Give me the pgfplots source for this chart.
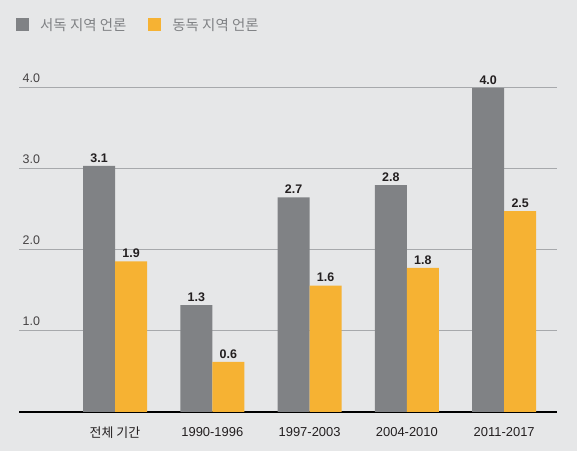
\documentclass[border=0pt]{standalone}
\usepackage{fontspec}
\setmainfont{Liberation Sans}
\newfontfamily\kr{Noto Sans CJK KR}
\usepackage{pgfplots}
\pgfplotsset{compat=1.18}
\definecolor{bg}{HTML}{E6E7E8}
\definecolor{bargray}{HTML}{808285}
\definecolor{barorange}{HTML}{F6B233}
\definecolor{gridgray}{HTML}{A7A9AC}
\definecolor{txt}{HTML}{231F20}
\definecolor{legtxt}{HTML}{808285}
\begin{document}
\begin{tikzpicture}[x=1bp,y=1bp]
\fill[bg] (0,0) rectangle (577,451);
\useasboundingbox (0,0) rectangle (577,451);
\begin{axis}[
  at={(19bp,39bp)}, anchor=south west,
  scale only axis, width=538bp, height=324bp,
  ybar=0pt, bar width=32bp,
  xmin=-0.987, xmax=4.543, ymin=0, ymax=4,
  clip=false,
  axis x line*=bottom, axis y line*=left,
  x axis line style={-, black, line width=1.2bp},
  y axis line style={draw=none},
  major tick length=0pt,
  xtick={0,1,2,3,4},
  xticklabels={{\kr 전체 기간},1990-1996,1997-2003,2004-2010,2011-2017},
  xticklabel style={font=\fontsize{13}{15}\selectfont, text=txt, anchor=north, inner sep=0pt, yshift=-15bp},
  ytick={1,2,3,4},
  yticklabels={1.0,2.0,3.0,4.0},
  yticklabel style={font=\fontsize{12.5}{14}\selectfont, text=txt!85, anchor=south west, inner sep=0pt, xshift=3.5bp, yshift=5bp},
  ymajorgrids, grid style={gridgray, line width=1bp},
  point meta=explicit symbolic,
  nodes near coords,
  nodes near coords style={font=\bfseries\fontsize{12.5}{14}\selectfont, text=txt},
  legend columns=2,
  legend style={draw=none, fill=none, at={(rel axis cs:0,1)}, anchor=west, xshift=-3bp, yshift=63bp, inner sep=0pt,
    nodes={inner sep=0pt},
    font=\kr\fontsize{14.5}{16}\selectfont, text=legtxt,
    /tikz/every odd column/.append style={column sep=11bp},
    /tikz/every even column/.append style={column sep=22bp}},
  legend image code/.code={\fill[#1] (0bp,-6.5bp) rectangle (13bp,6.5bp);},
]
\addplot[fill=bargray, draw=none] coordinates {(0,3.04) [3.1] (1,1.32) [1.3] (2,2.65) [2.7] (3,2.80) [2.8] (4,4.0) [4.0]};
\addplot[fill=barorange, draw=none] coordinates {(0,1.86) [1.9] (1,0.62) [0.6] (2,1.56) [1.6] (3,1.78) [1.8] (4,2.48) [2.5]};
\legend{서독 지역 언론, 동독 지역 언론}
\end{axis}
\end{tikzpicture}
\end{document}
